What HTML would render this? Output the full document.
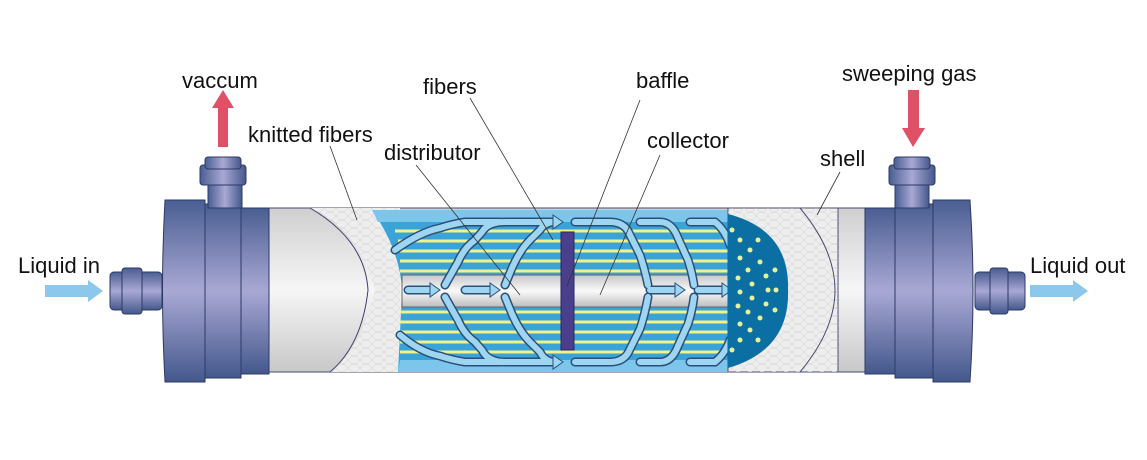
<!DOCTYPE html>
<html><head><meta charset="utf-8"><style>
html,body{margin:0;padding:0;background:#fff;width:1147px;height:460px;overflow:hidden}
svg{display:block}
text{font-family:"Liberation Sans",sans-serif;font-size:22px;fill:#111}
</style></head><body>
<svg width="1147" height="460" viewBox="0 0 1147 460" xmlns="http://www.w3.org/2000/svg">
<defs>
<linearGradient id="cap" x1="0" y1="0" x2="0" y2="1">
<stop offset="0" stop-color="#4a5e92"/><stop offset="0.5" stop-color="#a9a8d4"/><stop offset="1" stop-color="#44588c"/></linearGradient>
<linearGradient id="capx" x1="0" y1="0" x2="1" y2="0">
<stop offset="0" stop-color="#4a5e92"/><stop offset="0.5" stop-color="#a9a8d4"/><stop offset="1" stop-color="#44588c"/></linearGradient>
<linearGradient id="grey" x1="0" y1="0" x2="0" y2="1">
<stop offset="0" stop-color="#cfcfcf"/><stop offset="0.5" stop-color="#f6f6f6"/><stop offset="1" stop-color="#c8c8c8"/></linearGradient>
<linearGradient id="pipe" x1="0" y1="0" x2="0" y2="1">
<stop offset="0" stop-color="#c8c8c8"/><stop offset="0.5" stop-color="#fafafa"/><stop offset="1" stop-color="#bdbdbd"/></linearGradient>
<pattern id="knit" width="12" height="8" patternUnits="userSpaceOnUse">
<path d="M0 8 Q6 0 12 8 M0 0 Q6 8 12 0" fill="none" stroke="#cfcfcf" stroke-width="0.5"/></pattern>
</defs>

<text x="182" y="88">vaccum</text>
<text x="423" y="94">fibers</text>
<text x="636" y="88">baffle</text>
<text x="842" y="81">sweeping gas</text>
<text x="248" y="142">knitted fibers</text>
<text x="384" y="160">distributor</text>
<text x="647" y="148">collector</text>
<text x="820" y="166">shell</text>
<text x="18" y="273">Liquid in</text>
<text x="1030" y="273">Liquid out</text>

<polygon points="223,90 234,108 228,108 228,147 218,147 218,108 212,108" fill="#e05066"/>
<polygon points="913,147 925,128 919,128 919,90 908,90 908,128 902,128" fill="#e05066"/>
<polygon points="45,285 88,285 88,280 103,291 88,302 88,297 45,297" fill="#8cc8ec"/>
<polygon points="1030,285 1073,285 1073,280 1088,291 1073,302 1073,297 1030,297" fill="#8cc8ec"/>

<rect x="265" y="208" width="605" height="164" fill="url(#grey)" stroke="#4a4a70" stroke-width="1"/>
<path d="M310 208 Q360 230 375 290 Q360 350 330 372 L400 372 L400 208 Z" fill="#eeeeee"/>
<path d="M310 208 Q360 230 375 290 Q360 350 330 372 L400 372 L400 208 Z" fill="url(#knit)"/>
<path d="M310 208 Q365 240 368 290 Q362 345 330 372" fill="none" stroke="#3c3c6a" stroke-width="1"/>
<path d="M372 210 Q400 250 402 290 Q400 335 398 372 L730 372 L730 210 Z" fill="#3aa3d8"/>
<path d="M372 210 L730 210 L730 222 L378 222 Z" fill="#7cc6ec"/>
<path d="M400 360 L730 360 L730 372 L398 372 Z" fill="#7cc6ec"/>
<g stroke="#f2f28a" stroke-width="3">
<line x1="395" y1="231" x2="735" y2="231"/><line x1="398" y1="241" x2="735" y2="241"/>
<line x1="400" y1="251" x2="735" y2="251"/><line x1="400" y1="261" x2="735" y2="261"/>
<line x1="400" y1="271" x2="735" y2="271"/>
<line x1="400" y1="312" x2="735" y2="312"/><line x1="400" y1="322" x2="735" y2="322"/>
<line x1="400" y1="332" x2="735" y2="332"/><line x1="400" y1="342" x2="735" y2="342"/>
<line x1="400" y1="352" x2="735" y2="352"/>
</g>
<rect x="402" y="275" width="335" height="32" fill="url(#pipe)" stroke="#666" stroke-width="1"/>
<g id="fl" fill="none" stroke-linecap="round">
<path d="M445 285 L458 262 Q464 248 475 240 L482 232 Q488 222 505 222 L555 222 M505 285 L512 268 Q520 250 530 240 L540 230 Q545 222 555 222 M395 250 Q420 232 440 228 Q452 224 465 222 L500 222"/>
<path d="M445 297 L458 320 Q464 334 475 342 L482 350 Q488 362 505 362 L555 362 M505 297 L512 314 Q520 332 530 342 L540 352 Q545 362 555 362 M400 335 Q420 352 440 356 Q452 360 465 362 L500 362"/>
<path d="M575 222 L610 222 Q625 222 630 235 L640 255 Q645 270 648 285 M640 222 L660 222 Q672 222 678 238 L688 260 Q692 272 694 285 M690 222 L715 222 Q725 230 730 245"/>
<path d="M575 362 L610 362 Q625 362 630 349 L640 329 Q645 314 648 297 M640 362 L660 362 Q672 362 678 346 L688 324 Q692 312 694 297 M690 362 L715 362 Q725 354 730 340"/>
<path d="M408 290 L430 290 M465 290 L490 290 M650 290 L675 290 M698 290 L722 290"/>
</g>
<use href="#fl" stroke="#2b4f7a" stroke-width="9"/>
<use href="#fl" stroke="#9ed6f2" stroke-width="6"/>
<g fill="#9ed6f2" stroke="#2b4f7a" stroke-width="1">
<polygon points="430,283 440,290 430,297"/><polygon points="490,283 500,290 490,297"/>
<polygon points="675,283 685,290 675,297"/><polygon points="722,283 732,290 722,297"/>
<polygon points="553,215 563,222 553,229"/><polygon points="553,355 563,362 553,369"/>
</g>
<rect x="561" y="232" width="13" height="118" fill="#4a3f8c" stroke="#2a2460"/>
<rect x="728" y="208" width="110" height="164" fill="#eeeeee" stroke="#4a4a70" stroke-width="1"/>
<rect x="728" y="208" width="110" height="164" fill="url(#knit)"/>
<path d="M728 214 Q790 230 788 290 Q790 350 728 368 Z" fill="#0b6fa3"/>
<g fill="#e6f29a">
<circle cx="740" cy="240" r="2.5"/><circle cx="750" cy="250" r="2.5"/><circle cx="760" cy="262" r="2.5"/><circle cx="766" cy="276" r="2.5"/><circle cx="768" cy="290" r="2.5"/><circle cx="766" cy="304" r="2.5"/><circle cx="760" cy="318" r="2.5"/><circle cx="750" cy="330" r="2.5"/><circle cx="740" cy="340" r="2.5"/>
<circle cx="740" cy="258" r="2.5"/><circle cx="748" cy="270" r="2.5"/><circle cx="752" cy="284" r="2.5"/><circle cx="752" cy="298" r="2.5"/><circle cx="748" cy="312" r="2.5"/><circle cx="740" cy="324" r="2.5"/>
<circle cx="738" cy="278" r="2.5"/><circle cx="740" cy="292" r="2.5"/><circle cx="738" cy="306" r="2.5"/>
<circle cx="732" cy="230" r="2.5"/><circle cx="732" cy="350" r="2.5"/><circle cx="776" cy="290" r="2.5"/>
<circle cx="775" cy="270" r="2.5"/><circle cx="775" cy="310" r="2.5"/><circle cx="758" cy="240" r="2.5"/><circle cx="758" cy="340" r="2.5"/>
</g>
<path d="M800 208 Q835 250 835 290 Q835 330 800 372" fill="none" stroke="#4a4a70" stroke-width="1"/>

<g stroke="#333" stroke-width="0.8">
<line x1="330" y1="146" x2="357" y2="220"/>
<line x1="416" y1="165" x2="520" y2="295"/>
<line x1="470" y1="98" x2="553" y2="240"/>
<line x1="640" y1="100" x2="567" y2="286"/>
<line x1="660" y1="155" x2="600" y2="295"/>
<line x1="840" y1="172" x2="817" y2="215"/>
</g>

<rect x="110" y="272" width="52" height="38" rx="4" fill="url(#cap)" stroke="#2c3a66"/>
<rect x="122" y="268" width="20" height="46" rx="3" fill="url(#cap)" stroke="#2c3a66"/>
<path d="M165 200 L205 200 L205 382 L165 382 Q160 290 165 200 Z" fill="url(#cap)" stroke="#2c3a66"/>
<rect x="205" y="204" width="36" height="174" fill="url(#cap)" stroke="#2c3a66"/>
<rect x="241" y="208" width="28" height="166" fill="url(#cap)" stroke="#2c3a66"/>
<rect x="208" y="175" width="34" height="33" fill="url(#capx)" stroke="#2c3a66"/>
<rect x="200" y="165" width="46" height="20" rx="3" fill="url(#capx)" stroke="#2c3a66"/>
<rect x="205" y="157" width="36" height="12" rx="3" fill="url(#capx)" stroke="#2c3a66"/>
<rect x="975" y="272" width="50" height="38" rx="4" fill="url(#cap)" stroke="#2c3a66"/>
<rect x="990" y="268" width="18" height="46" rx="3" fill="url(#cap)" stroke="#2c3a66"/>
<rect x="865" y="208" width="30" height="166" fill="url(#cap)" stroke="#2c3a66"/>
<rect x="895" y="204" width="38" height="174" fill="url(#cap)" stroke="#2c3a66"/>
<path d="M933 200 L970 200 Q976 290 970 382 L933 382 Z" fill="url(#cap)" stroke="#2c3a66"/>
<rect x="895" y="175" width="34" height="33" fill="url(#capx)" stroke="#2c3a66"/>
<rect x="889" y="165" width="46" height="20" rx="3" fill="url(#capx)" stroke="#2c3a66"/>
<rect x="894" y="157" width="36" height="12" rx="3" fill="url(#capx)" stroke="#2c3a66"/>
</svg>
</body></html>
